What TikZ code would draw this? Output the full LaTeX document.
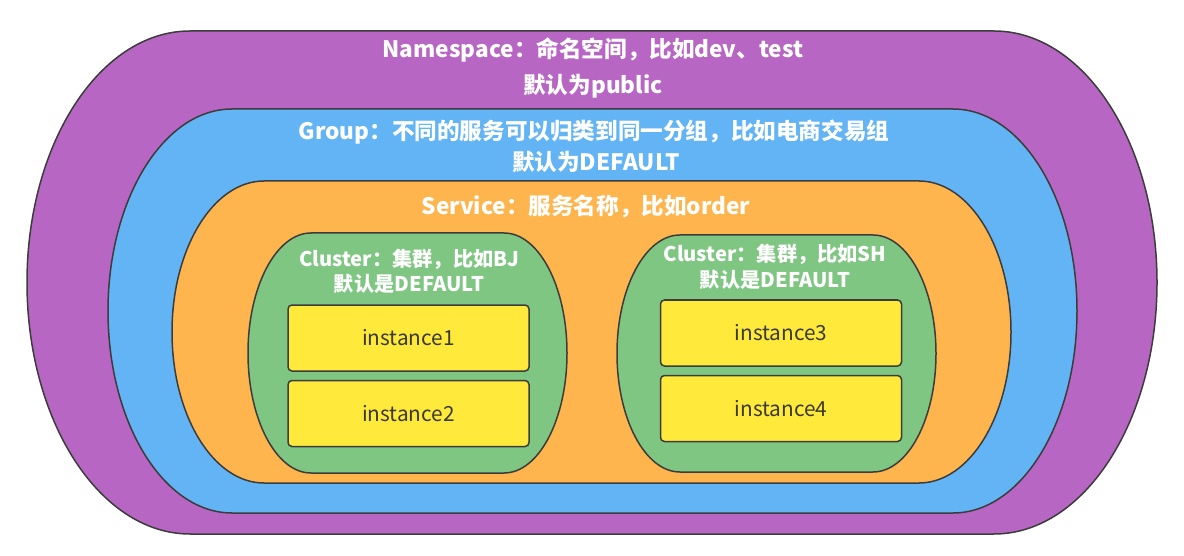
\documentclass[tikz,border=0pt]{standalone}
\usepackage{fontspec}
\setmainfont{Noto Sans CJK SC}
\definecolor{nspurple}{HTML}{B866C3}
\definecolor{grpblue}{HTML}{62B4F4}
\definecolor{svcorange}{HTML}{FFB54D}
\definecolor{clgreen}{HTML}{7FC682}
\definecolor{instyellow}{HTML}{FFE93A}
\definecolor{edgegray}{HTML}{3C3C3C}
\definecolor{insttext}{HTML}{3A3A30}
% #1 style, #2 x1, #3 y1, #4 x2, #5 y2, #6 rx, #7 ry
\newcommand\ovalshape[7]{%
  \draw[#1] (#2+#6,#3) -- (#4-#6,#3)
    arc[start angle=-90,end angle=0,x radius=#6,y radius=#7]
    -- (#4,#5-#7)
    arc[start angle=0,end angle=90,x radius=#6,y radius=#7]
    -- (#2+#6,#5)
    arc[start angle=90,end angle=180,x radius=#6,y radius=#7]
    -- (#2,#3+#7)
    arc[start angle=180,end angle=270,x radius=#6,y radius=#7]
    -- cycle;}
\tikzset{
  layer/.style={draw=edgegray,line width=1.5pt,fill=#1},
  titletext/.style={text=white,font=\bfseries\fontsize{22.6}{26}\selectfont,align=center,inner sep=0pt},
  cltext/.style={text=white,font=\bfseries\fontsize{20.2}{24}\selectfont,align=center,inner sep=0pt},
  instbox/.style={draw=edgegray,line width=1.5pt,fill=instyellow,rounded corners=4pt,
    minimum width=241pt,minimum height=66pt,inner sep=0pt,
    text=insttext,font=\fontsize{20.8}{24}\selectfont}
}
\begin{document}
\begin{tikzpicture}[x=1pt,y=-1pt]
\useasboundingbox[fill=white] (0,0) rectangle (1184,556);
\ovalshape{layer=nspurple}{27}{31}{1157}{534}{163}{251.5}
\ovalshape{layer=grpblue}{108}{109}{1077}{513}{124}{202}
\ovalshape{layer=svcorange}{172}{181}{1011}{483}{92}{151}
\ovalshape{layer=clgreen}{248}{233}{567}{473}{63}{120}
\ovalshape{layer=clgreen}{617}{235}{936}{472}{63}{118.5}
\node[instbox] (i1) at (408.5,338) {instance1};
\node[instbox] (i2) at (408.5,413.5) {instance2};
\node[instbox] (i3) at (781,333) {instance3};
\node[instbox] (i4) at (781,408.5) {instance4};
\node[titletext] (ns1) at (593,50) {Namespace：命名空间，比如dev、test};
\node[titletext] (ns2) at (593,86) {默认为public};
\node[titletext] (g1) at (594,132) {Group：不同的服务可以归类到同一分组，比如电商交易组};
\node[titletext] (g2) at (596,162) {默认为DEFAULT};
\node[titletext] (s1) at (586,207) {Service：服务名称，比如order};
\node[cltext] (c1a) at (409,259) {Cluster：集群，比如BJ};
\node[cltext] (c1b) at (409,284) {默认是DEFAULT};
\node[cltext] (c2a) at (775,254) {Cluster：集群，比如SH};
\node[cltext] (c2b) at (775,280) {默认是DEFAULT};
\end{tikzpicture}
\end{document}
